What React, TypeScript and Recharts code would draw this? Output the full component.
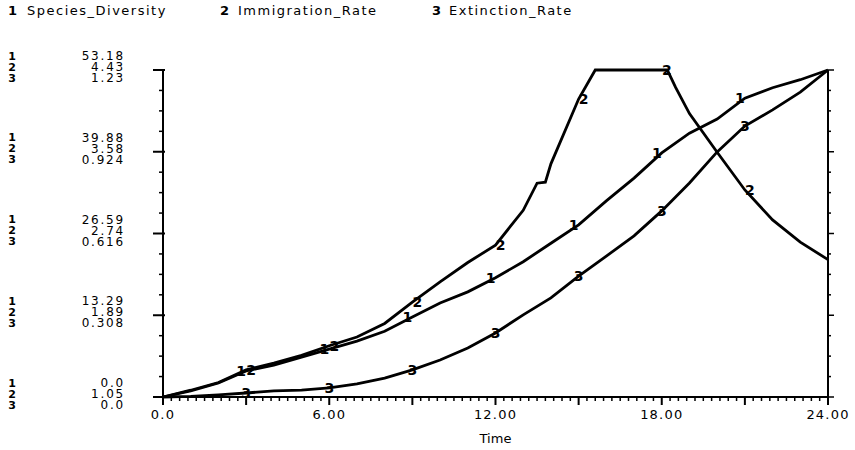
import { LineChart, Line, XAxis, YAxis } from 'recharts'

const FONT = '"DejaVu Sans", Verdana, sans-serif'

const seriesNames = ['Species_Diversity', 'Immigration_Rate', 'Extinction_Rate']

// simulation clock
const hours = [0, 1, 2, 3, 4, 5, 6, 7, 8, 9, 10, 11, 12, 13, 14, 15, 16, 17, 18, 19, 20, 21, 22, 23, 24]
const diversity = [
  0, 0.98, 2.28, 4.23, 5.2, 6.5, 7.8, 9.1, 10.7, 13.0, 15.3, 17.1, 19.4,
  22.0, 25.0, 28.0, 31.9, 35.6, 39.7, 42.9, 45.2, 48.6, 50.3, 51.6, 53.18,
]
const extinction = [
  0, 0.002, 0.008, 0.015, 0.023, 0.026, 0.034, 0.049, 0.071, 0.102, 0.139, 0.184, 0.241,
  0.309, 0.373, 0.455, 0.53, 0.606, 0.7, 0.805, 0.922, 1.019, 1.08, 1.147, 1.23,
]
// immigration saturates, so it gets its own (denser) time points
const immigrationHours = [
  0, 1, 2, 3, 4, 5, 6, 7, 8, 9, 10, 11, 12, 12.5, 13, 13.5, 13.8, 14, 15, 15.6,
  16, 17, 18, 18.2, 18.5, 19, 20, 21, 22, 23, 24,
]
const immigration = [
  1.05, 1.12, 1.2, 1.33, 1.4, 1.48, 1.58, 1.67, 1.81, 2.03, 2.24, 2.44, 2.62, 2.8, 2.98, 3.26, 3.27, 3.46, 4.13, 4.43,
  4.43, 4.43, 4.43, 4.43, 4.25, 3.98, 3.58, 3.19, 2.88, 2.65, 2.47,
]

// scale labels per series, bottom to top
const diversityScale = ['0.0', '13.29', '26.59', '39.88', '53.18']
const immigrationScale = ['1.05', '1.89', '2.74', '3.58', '4.43']
const extinctionScale = ['0.0', '0.308', '0.616', '0.924', '1.23']
const xLabels = ['0.0', '6.00', '12.00', '18.00', '24.00']
const labelTimes = [3, 6, 9, 12, 15, 18, 21]

const DIV_MAX = 53.18
const EXT_MAX = 1.23

const divData = hours.map((t, i) => ({ t, v: diversity[i] }))
const extData = hours.map((t, i) => ({ t, v: extinction[i] }))
const immData = immigrationHours.map((t, i) => ({ t, v: immigration[i] }))

// 16 minor divisions vertically, 80 horizontally
const divTicks = Array.from({ length: 17 }, (_, i) => (i * DIV_MAX) / 16)
const extTicks = Array.from({ length: 17 }, (_, i) => (i * EXT_MAX) / 16)
const xTicks = Array.from({ length: 81 }, (_, i) => (i * 24) / 80)

function LeftTick({ x, y, index }: any) {
  if (index % 4 !== 0) {
    return <line x1={x - 4} x2={x} y1={y} y2={y} stroke="#000" strokeWidth={1.5} />
  }
  const g = index / 4
  const rows = [diversityScale[g], immigrationScale[g], extinctionScale[g]]
  return (
    <g>
      <line x1={x - 10} x2={x + 2} y1={y} y2={y} stroke="#000" strokeWidth={2} />
      {rows.map((r, k) => (
        <g key={k} fontFamily={FONT} fill="#000">
          <text x={x - 151} y={y - 14 + k * 11} textAnchor="middle" dominantBaseline="central" fontWeight="bold" fontSize={11}>
            {k + 1}
          </text>
          <text x={x - 38} y={y - 14 + k * 11} textAnchor="end" dominantBaseline="central" fontSize={12} letterSpacing={1.8}>
            {r}
          </text>
        </g>
      ))}
    </g>
  )
}

function RightTick({ x, y, index }: any) {
  const len = index % 4 === 0 ? 6 : 3
  return <line x1={x} x2={x + len} y1={y} y2={y} stroke="#000" strokeWidth={1.5} />
}

function BottomTick({ x, y, index }: any) {
  const major = index % 10 === 0
  return (
    <g>
      <line x1={x} x2={x} y1={y} y2={y + (major ? 8 : 4)} stroke="#000" strokeWidth={major ? 2 : 1.5} />
      {index % 20 === 0 && (
        <text x={x} y={y + 22} textAnchor="middle" fontFamily={FONT} fontSize={13} letterSpacing={1.2} fill="#000">
          {xLabels[index / 20]}
        </text>
      )}
    </g>
  )
}

// curve number printed on the line at every third step
function curveLabel(n: number, dx: number) {
  return (p: any) => {
    const { cx, cy, payload, index } = p
    if (!labelTimes.includes(payload.t)) return <g key={`d${n}-${index}`} />
    return (
      <text
        key={`d${n}-${index}`}
        x={cx + dx}
        y={cy}
        textAnchor="middle"
        dominantBaseline="central"
        fontFamily={FONT}
        fontWeight="bold"
        fontSize={14}
        fill="#000"
      >
        {n}
      </text>
    )
  }
}

export default function App() {
  return (
    <div style={{ position: 'absolute', left: 0, top: 0, width: 855, height: 450, background: '#fff' }}>
      <svg width={855} height={30} style={{ position: 'absolute', left: 0, top: 0 }}>
        {seriesNames.map((name, i) => (
          <g key={name} fontFamily={FONT} fill="#000">
            <text x={8 + i * 212} y={15} fontWeight="bold" fontSize={13}>{i + 1}</text>
            <text x={27 + i * 211} y={15} fontSize={13} letterSpacing={1.5}>{name}</text>
          </g>
        ))}
      </svg>
      <div style={{ position: 'absolute', left: 0, top: 0 }}>
        <LineChart width={855} height={450} margin={{ top: 70, right: 0, bottom: 0, left: 0 }}>
          <XAxis
            dataKey="t"
            type="number"
            domain={[0, 24]}
            ticks={xTicks}
            interval={0}
            height={53}
            tickSize={0}
            tickMargin={0}
            tick={<BottomTick />}
            axisLine={{ stroke: '#000', strokeWidth: 2 }}
            label={{ value: 'Time', position: 'insideBottom', offset: 7, fontFamily: FONT, fontSize: 13, fill: '#000' }}
          />
          <YAxis
            yAxisId="div"
            type="number"
            domain={[0, DIV_MAX]}
            ticks={divTicks}
            interval={0}
            width={163}
            tickSize={0}
            tickMargin={0}
            tick={<LeftTick />}
            axisLine={{ stroke: '#000', strokeWidth: 2 }}
          />
          <YAxis
            yAxisId="ext"
            orientation="right"
            type="number"
            domain={[0, EXT_MAX]}
            ticks={extTicks}
            interval={0}
            width={27}
            tickSize={0}
            tickMargin={0}
            tick={<RightTick />}
            axisLine={{ stroke: '#000', strokeWidth: 2 }}
          />
          <YAxis yAxisId="imm" domain={[1.05, 4.43]} hide />
          <Line data={divData} dataKey="v" yAxisId="div" type="linear" stroke="#000" strokeWidth={2.8}
            dot={curveLabel(1, -5)} activeDot={false} isAnimationActive={false} />
          <Line data={immData} dataKey="v" yAxisId="imm" type="linear" stroke="#000" strokeWidth={2.8}
            dot={curveLabel(2, 5)} activeDot={false} isAnimationActive={false} />
          <Line data={extData} dataKey="v" yAxisId="ext" type="linear" stroke="#000" strokeWidth={2.8}
            dot={curveLabel(3, 0)} activeDot={false} isAnimationActive={false} />
        </LineChart>
      </div>
    </div>
  )
}
